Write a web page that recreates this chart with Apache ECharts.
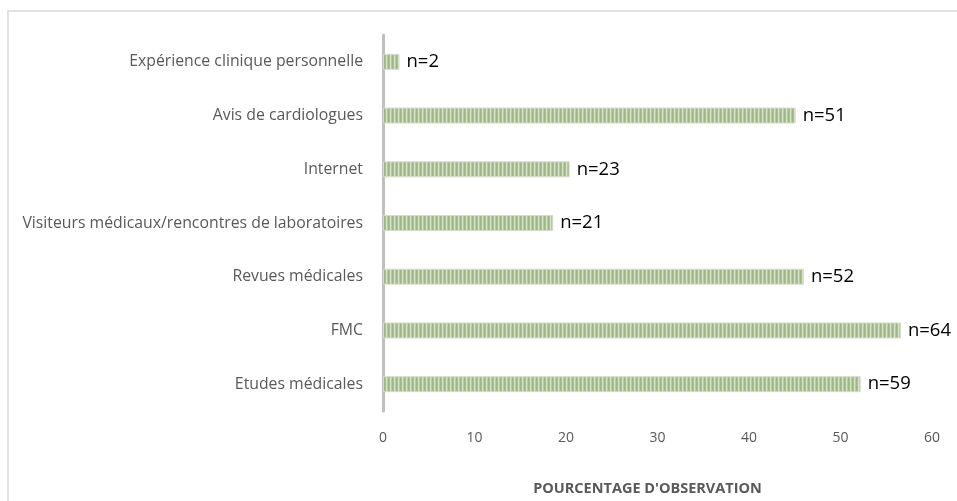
<!DOCTYPE html>
<html>
<head>
    <meta charset="utf-8">
    <title>Sources d'information</title>
    <script src="https://cdn.jsdelivr.net/npm/echarts@6.0.0/dist/echarts.min.js"></script>
    <style>
        html, body { margin: 0; padding: 0; background: #fff; }
    </style>
</head>
<body>
    <div id="main" style="width: 957px;height:501px;"></div>

    <script type="text/javascript">
        // catégories (de haut en bas dans le graphique)
        var categories = [
            'Expérience clinique personnelle',
            'Avis de cardiologues',
            'Internet',
            'Visiteurs médicaux/rencontres de laboratoires',
            'Revues médicales',
            'FMC',
            'Etudes médicales'
        ];
        // pourcentage d'observation
        var percents = [1.8, 45.1, 20.4, 18.6, 46.0, 56.6, 52.2];
        // effectifs affichés à droite des barres
        var counts = [2, 51, 23, 21, 52, 64, 59];
        var xTicks = [0, 10, 20, 30, 40, 50, 60];

        // motif rayé vertical (remplissage des barres)
        function stripePattern() {
            var c = document.createElement('canvas');
            c.width = 4;
            c.height = 8;
            var ctx = c.getContext('2d');
            var cols = ['#9db683', '#abc194', '#d6e1c9', '#b7caa2'];
            for (var i = 0; i < 4; i++) {
                ctx.fillStyle = cols[i];
                ctx.fillRect(i, 0, 1, 8);
            }
            return c;
        }

        var myChart = echarts.init(document.getElementById('main'));

        var option = {
            animation: false,
            backgroundColor: '#ffffff',
            textStyle: { fontFamily: 'Open Sans' },
            graphic: [{
                type: 'rect',
                shape: { x: 8, y: 11, width: 1000, height: 600 },
                style: { fill: 'none', stroke: '#d9d9d9', lineWidth: 1.5 },
                silent: true
            }],
            grid: {
                left: 383,
                right: 25,
                top: 35,
                bottom: 88
            },
            xAxis: {
                type: 'value',
                min: xTicks[0],
                max: xTicks[xTicks.length - 1],
                interval: 10,
                axisLine: { show: false },
                axisTick: { show: false },
                splitLine: { show: false },
                axisLabel: {
                    color: '#595959',
                    fontSize: 14,
                    margin: 20
                },
                name: "POURCENTAGE D'OBSERVATION",
                nameLocation: 'middle',
                nameGap: 70,
                nameTextStyle: {
                    color: '#595959',
                    fontSize: 14.5,
                    fontWeight: 'bold',
                    padding: [0, 20, 0, 0]
                }
            },
            yAxis: {
                type: 'category',
                inverse: true,
                data: categories,
                axisLine: { show: true, lineStyle: { color: '#bfbfbf', width: 3 } },
                axisTick: { show: false },
                axisLabel: {
                    color: '#595959',
                    fontSize: 15.8,
                    margin: 20
                }
            },
            series: [{
                type: 'bar',
                barWidth: 16,
                data: percents.map(function (v, i) {
                    return { value: v, n: counts[i] };
                }),
                itemStyle: {
                    color: { image: stripePattern(), repeat: 'repeat' },
                    borderColor: '#d5dccb',
                    borderWidth: 1
                },
                label: {
                    show: true,
                    position: 'right',
                    distance: 7,
                    color: '#000000',
                    fontSize: 18.5,
                    formatter: function (p) {
                        return 'n=' + counts[p.dataIndex];
                    }
                }
            }]
        };

        myChart.setOption(option);
    </script>
</body>
</html>
